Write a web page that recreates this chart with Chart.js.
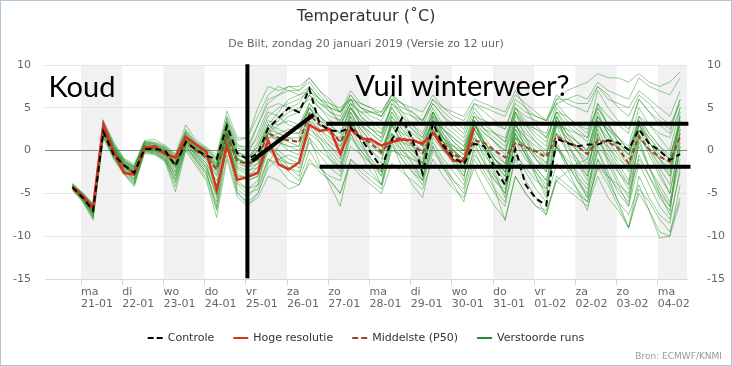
<!DOCTYPE html>
<html>
<head>
<meta charset="utf-8">
<title>Temperatuur De Bilt</title>
<script src="https://cdn.jsdelivr.net/npm/chart.js@4.4.1/dist/chart.umd.min.js"></script>
<style>
  html, body { margin: 0; padding: 0; background: #fff; }
  #plume-chart { display: block; }
</style>
</head>
<body>
<canvas id="plume-chart" width="732" height="366"></canvas>
<script>
// time axis: hours since 20-01 00:00 (local time), one point every 6 hours
const stepHours = [19,25,31,37,43,49,55,61,67,73,79,85,91,97,103,109,115,121,127,133,
  139,145,151,157,163,169,175,181,187,193,199,205,211,217,223,229,235,241,247,253,
  259,265,271,277,283,289,295,301,307,313,319,325,331,337,343,349,355,361,367,373];

// day ticks (midnight) and their labels
const dayTickHours = [24,48,72,96,120,144,168,192,216,240,264,288,312,336,360];
const dayNames = ['ma','di','wo','do','vr','za','zo','ma','di','wo','do','vr','za','zo','ma'];
const dayDates = ['21-01','22-01','23-01','24-01','25-01','26-01','27-01','28-01','29-01','30-01',
  '31-01','01-02','02-02','03-02','04-02'];
const yTicks = [-15, -10, -5, 0, 5, 10];

// series
const controle = [-4.3,-5.5,-7.0,2.2,-0.5,-1.7,-2.6,0.2,0.2,0.0,
  -1.8,1.0,0.1,-0.6,-1.0,2.9,-0.3,-1.0,-0.3,2.6,
  3.8,5.0,4.5,7.2,3.1,2.4,2.2,2.7,1.4,-0.3,
  -2.0,1.2,3.8,1.4,-2.7,3.2,0.6,-0.8,-1.6,0.8,
  0.5,-2.0,-4.0,0.2,-4.0,-5.6,-6.4,1.4,0.9,0.5,
  0.7,0.7,1.2,0.9,0.1,2.5,0.8,0.0,-1.1,-0.4];

const hogeResolutie = [-4.2,-5.3,-6.6,3.1,-0.2,-2.6,-2.8,0.3,0.5,-0.4,
  -0.8,1.6,0.7,-0.1,-4.6,0.5,-3.4,-3.1,-2.6,1.2,
  -1.6,-2.2,-1.4,3.0,2.3,2.5,-0.4,2.5,1.4,1.3,
  0.6,1.0,1.3,1.2,0.8,2.1,0.4,-1.2,-1.2,2.7];

const middelste = [-4.2,-5.4,-7.0,2.5,0.0,-1.8,-2.6,0.4,0.2,-0.3,
  -1.6,1.2,0.0,-0.8,-2.2,1.8,-1.2,-1.6,-1.0,2.0,
  1.5,1.2,1.0,4.2,3.0,2.4,1.0,3.0,1.6,0.8,
  -0.2,1.2,1.5,0.8,-0.3,2.2,0.8,-0.4,-1.0,1.2,
  0.9,0.0,-0.8,0.9,0.4,-0.1,-0.8,1.7,1.0,0.5,
  -0.4,1.2,1.0,0.3,-1.5,1.7,0.1,-0.7,-1.3,1.7];

const verstoordeRuns = [
  [-4.0,-5.2,-6.6,3.0,0.3,-1.5,-2.2,0.8,0.5,0.0,-1.2,1.8,0.4,-0.4,-1.5,2.5,-0.5,-1.0,0.5,3.5,3.0,4.0,4.5,6.5,5.0,4.0,3.5,5.5,3.0,2.0,1.0,4.0,2.5,1.5,0.5,3.5,1.5,0.0,-1.0,2.5,1.0,-0.5,-1.5,3.0,1.0,-0.5,-2.0,3.5,2.0,1.0,0.0,4.0,2.5,1.0,-0.5,3.0,1.0,-0.5,-1.5,2.5],
  [-4.5,-5.8,-7.8,1.8,-0.8,-2.5,-3.8,0.0,-0.2,-1.0,-3.5,0.5,-1.0,-2.5,-6.5,1.0,-4.0,-5.0,-4.5,-1.0,-2.0,-3.5,-4.0,-1.0,-2.5,-3.5,-5.0,-1.5,-3.0,-4.0,-5.0,-1.5,-2.5,-3.5,-4.5,-1.0,-3.0,-4.5,-5.5,-2.0,-4.5,-6.5,-8.0,-3.0,-5.0,-6.5,-7.0,-3.5,-4.5,-5.5,-6.5,-3.0,-5.5,-7.0,-9.0,-5.0,-7.0,-9.5,-10.0,-6.0],
  [-3.9,-5.0,-6.3,3.3,0.6,-1.2,-2.0,1.0,0.8,0.2,-0.8,2.3,0.8,0.2,-1.0,3.5,0.5,0.5,3.0,6.0,6.5,7.0,7.0,8.5,7.0,5.5,4.5,6.5,5.0,4.0,3.5,6.0,5.0,4.5,3.5,6.0,4.5,3.5,2.5,5.5,4.5,3.5,2.5,6.0,5.0,4.0,3.5,6.0,7.0,7.5,8.0,9.0,8.5,8.5,8.0,9.0,8.0,7.5,8.0,9.2],
  [-4.2,-5.5,-7.2,2.8,-0.2,-2.0,-3.0,0.5,0.0,-0.6,-2.5,1.6,-0.3,-1.5,-4.0,2.8,-2.0,-2.5,-1.5,2.5,1.0,0.0,-0.5,4.0,2.0,0.5,-1.0,4.5,2.0,0.0,-1.5,4.0,2.0,0.5,-1.5,4.5,1.5,-0.5,-2.0,3.5,1.0,-1.0,-2.5,4.5,1.5,-1.0,-2.5,4.0,1.0,-1.0,-3.0,3.5,0.5,-1.5,-3.5,3.0,0.5,-2.0,-4.0,4.5],
  [-4.4,-5.6,-7.4,2.2,-0.4,-2.2,-3.3,0.2,0.4,-0.2,-1.4,1.0,0.2,-0.5,-1.8,2.0,-0.8,-1.5,-0.5,2.0,4.0,5.0,5.5,7.5,6.0,5.0,4.5,6.0,4.0,3.0,2.0,5.0,3.5,2.5,1.5,4.5,2.5,1.0,0.0,3.0,1.0,-1.0,-2.5,2.0,-0.5,-2.5,-4.5,0.5,-1.5,-3.0,-4.5,0.5,-1.0,-2.5,-4.0,1.5,0.0,-1.5,-3.0,2.0],
  [-4.1,-5.3,-6.8,2.6,0.2,-1.6,-2.4,0.6,0.3,-0.4,-1.9,1.3,-0.2,-1.2,-3.0,1.5,-2.5,-3.5,-3.0,0.5,-1.0,-2.5,-3.5,0.0,-2.0,-3.5,-5.0,-1.0,-2.0,-3.0,-4.0,0.0,-0.5,-1.0,-1.5,2.0,1.0,0.5,0.0,3.5,2.5,2.0,1.5,5.0,3.5,2.5,1.5,4.5,3.0,2.0,1.0,5.0,3.0,1.5,0.0,4.0,2.0,0.5,-1.0,3.5],
  [-4.0,-5.1,-6.5,3.4,0.8,-1.0,-1.8,1.1,1.0,0.5,-0.5,2.5,1.0,0.3,-0.8,4.0,1.2,1.5,5.0,7.5,7.0,7.5,7.0,8.0,6.5,5.0,3.0,5.0,3.0,1.5,0.0,3.0,1.0,-0.5,-2.0,2.0,0.0,-1.5,-3.0,1.5,-0.5,-2.0,-3.5,2.5,0.5,-1.0,-2.0,3.0,2.5,2.0,1.5,5.5,4.0,3.0,2.0,6.0,4.5,3.5,2.5,6.0],
  [-4.3,-5.4,-6.9,2.0,-0.3,-1.9,-2.8,0.3,0.1,-0.5,-2.2,0.8,-0.5,-1.8,-4.5,1.2,-3.0,-3.0,-2.0,1.5,2.0,2.5,2.0,5.0,3.5,2.5,1.0,4.0,2.5,1.0,0.0,3.5,1.5,0.5,-0.5,3.0,1.0,0.0,-1.5,2.5,0.5,-1.5,-3.0,2.0,0.0,-2.0,-3.5,2.0,0.5,-1.0,-2.5,3.0,1.0,-0.5,-2.5,2.5,0.0,-2.5,-5.0,1.0],
  [-4.6,-5.9,-7.9,1.5,-1.0,-2.8,-4.2,-0.2,-0.4,-1.2,-4.2,0.2,-1.5,-3.2,-7.0,-0.5,-5.0,-6.0,-5.0,-2.0,-1.0,-0.5,-1.0,2.0,1.0,-0.5,-2.0,2.5,0.5,-1.0,-2.5,2.0,0.0,-1.5,-3.0,1.0,-1.0,-2.5,-4.0,0.0,-2.5,-4.5,-6.0,-1.0,-3.5,-5.5,-7.5,-3.0,-4.0,-5.0,-6.0,-2.0,-4.0,-6.5,-9.0,-4.5,-6.0,-8.0,-9.5,-5.5],
  [-4.2,-5.3,-6.7,2.9,0.5,-1.3,-2.0,0.7,0.6,0.3,-0.9,1.9,0.6,-0.2,-1.2,3.0,0.0,-1.0,1.0,4.0,5.0,5.5,6.0,7.0,5.5,4.5,4.0,6.5,5.0,4.5,4.0,6.0,5.5,5.0,4.5,6.5,5.0,4.0,3.5,5.5,5.0,4.5,4.0,6.5,5.5,4.5,3.5,5.5,6.0,5.5,5.5,7.5,6.5,5.0,4.0,6.5,5.5,4.0,3.0,5.5],
  [-4.4,-5.7,-7.5,2.4,-0.5,-2.3,-3.5,0.1,-0.1,-0.8,-3.0,1.1,-0.7,-2.0,-5.5,2.0,-3.5,-4.5,-3.5,0.0,-0.5,-2.0,-3.0,1.5,-1.5,-4.0,-6.5,-1.0,-2.5,-3.5,-4.5,0.5,-1.0,-2.5,-3.5,1.5,0.0,-1.0,-2.0,2.5,0.5,-1.5,-3.0,3.0,1.5,0.0,-1.5,3.5,1.5,0.0,-1.0,4.0,2.0,0.0,-1.5,3.0,1.0,-1.0,-2.5,3.5],
  [-4.0,-5.2,-6.6,3.1,0.4,-1.4,-2.1,0.9,0.7,0.1,-1.0,2.0,0.5,-0.3,-1.4,3.2,-0.3,-0.5,2.0,5.0,5.5,5.0,4.5,6.5,5.5,5.0,4.5,7.0,5.5,5.0,4.5,6.5,4.5,3.0,1.5,4.5,2.0,0.0,-2.0,2.0,-1.0,-4.5,-8.2,-3.0,-5.0,-6.5,-7.5,-3.5,-2.5,-1.5,-1.0,3.0,1.5,0.5,-0.5,3.5,1.5,0.0,-1.0,3.0],
  [-4.3,-5.5,-7.1,2.5,0.0,-1.8,-2.7,0.4,0.2,-0.3,-1.7,1.2,0.0,-0.9,-2.5,1.6,-1.5,-2.0,-1.5,1.0,-0.5,-1.5,-1.5,2.5,1.5,0.5,-0.5,2.5,1.5,1.0,0.5,2.0,1.0,0.5,0.0,2.0,0.5,-0.5,-1.5,1.5,0.0,-1.0,-2.0,1.5,0.5,-0.5,-1.5,2.0,1.0,0.0,-1.5,1.5,0.5,-1.0,-2.0,1.5,0.0,-1.0,-2.0,2.0],
  [-4.5,-5.7,-7.6,2.1,-0.6,-2.4,-3.6,0.0,-0.3,-1.0,-3.8,0.6,-1.2,-2.8,-6.0,1.8,-4.5,-5.5,-4.0,1.0,0.0,-1.0,-1.5,3.5,1.5,0.0,-1.5,4.0,1.0,-1.0,-3.0,3.0,0.5,-1.5,-3.5,4.0,1.0,-1.5,-3.5,3.5,0.0,-3.0,-5.0,3.5,0.0,-3.0,-5.5,3.0,0.0,-3.0,-5.5,2.0,-1.5,-4.0,-6.5,1.5,-2.0,-5.0,-7.5,2.5],
  [-4.1,-5.2,-6.7,2.7,0.1,-1.7,-2.5,0.5,0.4,-0.1,-1.5,1.5,0.2,-0.6,-2.0,2.2,-1.0,-1.5,0.0,3.0,2.5,2.0,2.0,5.5,4.0,3.0,2.0,5.0,3.5,2.5,1.5,5.5,4.0,3.0,2.0,5.0,3.0,2.0,1.0,4.0,3.5,3.0,2.5,5.5,4.5,4.0,3.5,6.5,5.5,5.0,4.5,7.5,6.0,5.5,5.0,7.0,6.0,5.0,4.0,7.0],
  [-4.4,-5.6,-7.3,2.3,-0.3,-2.1,-3.2,0.3,0.0,-0.7,-2.6,1.0,-0.6,-1.9,-5.0,1.4,-2.8,-3.5,-3.0,0.5,1.0,0.5,0.0,3.0,1.0,-1.0,-2.5,2.0,-0.5,-2.5,-4.0,1.0,-2.0,-4.0,-5.5,0.0,-2.0,-3.5,-4.5,0.5,-1.5,-3.0,-4.0,1.5,-0.5,-2.0,-3.5,1.0,-1.5,-3.5,-5.0,0.0,-3.0,-6.0,-9.0,-3.0,-5.5,-7.5,-8.5,-2.0],
  [-4.2,-5.4,-7.0,2.6,0.1,-1.7,-2.5,0.5,0.3,-0.2,-1.4,1.4,0.1,-0.7,-2.1,1.9,-1.1,-1.5,-1.0,2.5,3.5,4.5,5.0,6.0,5.0,3.5,3.0,5.5,4.5,3.5,2.5,5.0,3.0,1.5,0.5,3.5,2.5,1.5,0.5,4.0,2.5,1.0,-0.5,4.0,3.0,2.0,1.0,4.5,4.0,3.0,2.5,5.0,3.0,1.0,-0.5,3.0,1.5,0.0,-1.0,4.0],
  [-4.3,-5.6,-7.2,2.4,-0.2,-2.0,-2.9,0.2,0.0,-0.5,-2.0,0.9,-0.4,-1.5,-3.5,1.0,-2.2,-2.8,-2.5,0.0,-1.0,-1.5,-2.0,1.5,0.0,-1.0,-2.0,2.0,0.0,-1.5,-3.0,1.0,-1.0,-2.5,-4.0,0.5,-2.0,-4.0,-6.0,-1.0,-3.0,-5.0,-6.5,-0.5,-2.0,-3.5,-4.5,0.5,-1.5,-3.5,-5.5,-1.0,-3.5,-6.0,-7.5,-4.0,-7.0,-10.2,-10.0,-4.0],
  [-4.0,-5.1,-6.4,3.2,0.7,-1.1,-1.9,1.0,0.9,0.4,-0.6,2.2,0.9,0.1,-0.9,3.8,0.8,0.0,1.5,4.5,4.0,3.0,2.5,5.0,4.0,3.0,2.0,5.0,3.5,2.5,2.0,5.5,4.5,4.0,3.5,6.0,5.0,4.5,4.0,6.0,5.5,5.0,4.5,7.0,5.0,3.0,1.5,4.5,2.5,1.0,0.0,4.0,2.0,0.5,-1.0,4.0,3.0,2.0,1.5,5.0],
  [-4.5,-5.8,-7.7,1.9,-0.7,-2.6,-3.9,-0.1,-0.3,-1.1,-3.3,0.4,-1.1,-2.6,-6.8,0.6,-4.8,-6.3,-5.5,-3.0,-3.5,-4.5,-4.0,-1.5,-2.0,-3.0,-3.5,0.5,-0.5,-1.5,-2.5,1.5,0.0,-1.0,-2.0,2.5,1.0,0.0,-1.0,3.0,1.5,0.0,-1.5,2.5,0.5,-1.0,-2.5,2.0,0.0,-1.5,-3.0,1.0,-0.5,-2.5,-4.5,0.5,-2.0,-4.0,-6.0,0.0],
  [-4.1,-5.3,-6.9,2.8,0.3,-1.5,-2.3,0.6,0.5,0.0,-1.1,1.7,0.3,-0.5,-1.7,2.6,-0.6,-1.0,0.5,3.0,4.5,6.0,6.5,7.0,6.0,5.5,5.0,6.0,5.5,5.0,4.0,6.0,4.0,2.5,1.0,3.5,1.0,-1.0,-3.0,1.0,-1.5,-3.5,-5.0,0.0,-2.5,-4.5,-6.0,-1.5,-3.0,-4.5,-6.0,-2.0,-3.0,-4.0,-5.0,-1.0,-3.0,-5.0,-6.5,-1.0],
  [-4.2,-5.5,-7.1,2.5,0.0,-1.9,-2.7,0.3,0.2,-0.4,-1.8,1.1,-0.1,-1.0,-2.8,1.7,-1.8,-2.3,-2.0,1.5,1.5,1.0,0.5,3.5,2.5,1.5,0.5,3.0,1.5,0.5,-0.5,3.0,2.0,1.5,0.5,3.5,2.5,1.5,0.5,3.0,2.0,1.0,0.0,3.0,1.5,0.5,-0.5,3.0,1.5,0.5,-0.5,3.5,2.5,1.5,0.0,3.5,2.0,0.5,-0.5,3.0],
  [-4.6,-6.0,-8.1,1.6,-0.9,-2.7,-4.0,-0.3,-0.5,-1.3,-4.8,0.0,-1.8,-3.5,-7.8,-1.0,-5.4,-6.5,-5.0,-1.5,0.5,2.0,3.0,5.5,4.0,2.5,1.0,4.5,2.5,1.0,-0.5,3.5,1.5,0.0,-1.5,3.0,1.5,0.5,-0.5,3.0,1.0,-1.0,-2.5,2.0,-0.5,-3.0,-5.0,0.5,-2.0,-4.5,-7.0,-1.0,-3.0,-4.5,-6.0,-0.5,-3.0,-5.5,-7.0,0.5],
  [-3.8,-4.9,-6.2,3.5,1.0,-0.9,-1.6,1.2,1.3,0.6,-0.4,3.0,1.2,0.4,-0.5,4.6,1.5,1.5,4.0,6.5,7.5,7.0,6.5,7.5,6.0,4.5,3.5,6.0,5.0,4.5,4.5,6.5,5.5,4.0,3.0,5.5,4.0,2.5,1.5,4.5,3.0,2.0,1.0,5.0,4.0,3.5,3.0,6.0,6.0,6.5,6.0,8.0,7.0,6.5,6.0,8.5,7.5,7.0,6.5,8.5],
  [-4.3,-5.5,-7.0,2.3,-0.1,-1.8,-2.6,0.4,0.3,-0.3,-1.6,1.3,0.0,-0.8,-2.3,2.3,-1.3,-2.0,-1.0,2.0,1.0,0.5,0.5,4.5,2.5,1.0,0.0,3.5,1.0,-1.5,-4.0,2.0,0.5,-0.5,-1.5,3.5,1.5,0.0,-1.0,3.5,0.5,-2.5,-5.5,1.5,0.5,0.0,-0.5,4.0,2.0,1.0,0.0,4.5,2.0,0.0,-2.0,3.5,1.0,-1.0,-3.0,4.0],
  [-4.1,-5.2,-6.7,2.9,0.4,-1.4,-2.2,0.8,0.6,0.1,-1.0,1.8,0.5,-0.4,-1.6,2.8,-0.4,-0.8,0.0,2.5,2.0,1.5,1.0,4.5,3.5,3.0,3.0,5.5,4.5,4.5,4.0,6.5,5.5,4.5,3.5,5.5,4.0,3.0,2.0,5.0,3.5,2.0,1.0,4.5,2.5,1.0,0.0,4.0,2.0,0.0,-2.0,2.5,0.0,-2.0,-4.0,2.0,-0.5,-3.0,-5.0,1.5],
  [-4.4,-5.7,-7.4,2.0,-0.5,-2.3,-3.4,0.1,-0.1,-0.9,-2.9,0.7,-0.9,-2.2,-5.2,0.8,-3.8,-4.5,-4.0,-1.0,-1.5,-2.0,-2.5,1.0,-0.5,-2.0,-3.0,1.5,0.0,-1.5,-2.5,1.5,-0.5,-2.0,-3.5,0.5,-1.5,-3.5,-5.0,-0.5,-2.0,-3.5,-4.5,1.0,-1.0,-2.5,-4.0,0.5,-1.0,-2.5,-4.0,0.0,-2.5,-5.0,-6.5,-1.5,-4.0,-6.5,-8.0,-2.5],
  [-4.0,-5.0,-6.4,3.0,0.6,-1.2,-1.9,0.9,0.8,0.3,-0.7,2.1,0.7,0.0,-1.1,3.4,0.3,0.0,3.0,5.5,6.5,7.5,7.5,8.5,7.0,6.0,4.5,6.0,4.0,2.5,1.5,4.5,2.5,1.0,0.0,4.0,2.0,0.5,-0.5,3.5,2.0,1.0,0.0,4.5,3.0,2.5,2.0,5.5,4.0,3.0,2.0,7.0,5.0,3.5,2.5,6.0,4.5,3.0,2.0,6.0],
  [-4.2,-5.4,-7.0,2.7,0.2,-1.6,-2.4,0.6,0.4,-0.1,-1.3,1.5,0.3,-0.5,-1.9,2.1,-0.9,-1.8,-1.0,2.0,3.0,3.5,3.0,5.0,3.5,2.0,0.5,3.5,1.5,0.0,-1.0,3.0,1.0,0.0,-1.0,2.5,0.5,-1.0,-2.5,2.5,0.5,-1.0,-2.0,3.5,2.0,1.0,-0.5,3.5,1.0,-1.5,-3.5,2.0,-1.0,-3.5,-5.5,1.0,-2.0,-4.5,-6.5,0.5],
  [-4.3,-5.4,-6.9,2.6,0.0,-1.8,-2.6,0.5,0.2,-0.3,-1.5,1.3,0.1,-0.7,-2.0,2.0,-1.0,-1.5,-0.5,3.0,2.0,1.5,1.5,5.0,3.0,2.0,1.5,5.0,3.0,2.0,1.0,4.5,3.0,2.0,1.0,4.5,2.5,1.0,0.0,4.0,2.5,1.5,0.5,5.0,3.0,1.5,0.5,5.0,3.5,2.5,1.5,5.5,3.0,1.5,0.5,5.0,3.0,1.5,0.0,5.0]
];

// hand-drawn notes on top of the chart, in axis units (hours, degrees)
const noteLines = [
  [120.9, 10.1, 120.9, -14.9],
  [123.6, -1.2, 159.5, 4.2],
  [166.9, 3.15, 377.8, 3.15],
  [163.0, -1.9, 379.0, -1.9]
];
const noteTexts = [
  ['Koud', 5.0, 6.3],
  ['Vuil winterweer?', 183.8, 6.4]
];

const FONT = '"DejaVu Sans", "Noto Sans", sans-serif';
Chart.defaults.font.family = FONT;

const colors = {
  controle: '#000000',
  hoge: '#d9321f',
  middelste: '#a4432b',
  runs: 'rgba(38, 146, 38, 0.48)',
  runsLegend: '#2b8a2b'
};

function toPoints(values) {
  return values.map((v, i) => ({ x: stepHours[i], y: v }));
}

const datasets = [
  { label: 'Controle', data: toPoints(controle), borderColor: colors.controle, borderWidth: 2, borderDash: [6, 4], order: 0 },
  { label: 'Hoge resolutie', data: toPoints(hogeResolutie), borderColor: colors.hoge, borderWidth: 2.5, order: 1 },
  { label: 'Middelste (P50)', data: toPoints(middelste), borderColor: colors.middelste, borderWidth: 2, borderDash: [5, 3], order: 2 }
];
verstoordeRuns.forEach((run, k) => {
  datasets.push({ label: 'Verstoorde runs', data: toPoints(run), borderColor: colors.runs, borderWidth: 1, order: 3 + k });
});

const legendItems = [
  { text: 'Controle', color: colors.controle, dash: [6, 3] },
  { text: 'Hoge resolutie', color: colors.hoge, dash: [] },
  { text: 'Middelste (P50)', color: colors.middelste, dash: [6, 3] },
  { text: 'Verstoorde runs', color: colors.runsLegend, dash: [] }
];

// alternating grey day bands, drawn under the grid
const dayBands = {
  id: 'dayBands',
  beforeDraw(chart) {
    const { ctx, chartArea: a, scales: { x } } = chart;
    ctx.save();
    ctx.fillStyle = '#f1f1f1';
    dayTickHours.forEach((h, k) => {
      if (k % 2) return;
      const x0 = Math.max(x.getPixelForValue(h), a.left);
      const x1 = Math.min(x.getPixelForValue(h + 24), a.right);
      if (x1 > x0) ctx.fillRect(x0, a.top, x1 - x0, a.bottom - a.top);
    });
    ctx.restore();
  }
};

// legend, credits, frame and the drawn-on notes
const extras = {
  id: 'extras',
  afterDraw(chart) {
    const { ctx, scales: { x, y } } = chart;
    ctx.save();

    // notes
    ctx.strokeStyle = '#000';
    ctx.lineWidth = 4;
    noteLines.forEach(([h0, v0, h1, v1]) => {
      ctx.beginPath();
      ctx.moveTo(x.getPixelForValue(h0), y.getPixelForValue(v0));
      ctx.lineTo(x.getPixelForValue(h1), y.getPixelForValue(v1));
      ctx.stroke();
    });
    ctx.fillStyle = '#000';
    ctx.font = '29px Lato, "Open Sans", sans-serif';
    ctx.textBaseline = 'alphabetic';
    ctx.textAlign = 'left';
    noteTexts.forEach(([text, h, v]) => {
      ctx.fillText(text, x.getPixelForValue(h), y.getPixelForValue(v));
    });

    // legend
    ctx.font = '11px ' + FONT;
    ctx.textBaseline = 'middle';
    const sym = 15, gap = 5, spacing = 19, ly = 338;
    const widths = legendItems.map(it => sym + gap + ctx.measureText(it.text).width);
    const total = widths.reduce((s, w) => s + w, 0) + spacing * (widths.length - 1);
    let lx = chart.width / 2 - total / 2;
    legendItems.forEach((it, k) => {
      ctx.strokeStyle = it.color;
      ctx.lineWidth = 2;
      ctx.setLineDash(it.dash);
      ctx.beginPath();
      ctx.moveTo(lx, ly);
      ctx.lineTo(lx + sym, ly);
      ctx.stroke();
      ctx.setLineDash([]);
      ctx.fillStyle = '#333';
      ctx.fillText(it.text, lx + sym + gap, ly);
      lx += widths[k] + spacing;
    });

    // credits
    ctx.font = '9px ' + FONT;
    ctx.fillStyle = '#999';
    ctx.textAlign = 'right';
    ctx.fillText('Bron: ECMWF/KNMI', 722, 357);

    // outer frame
    ctx.strokeStyle = '#b3c6d8';
    ctx.lineWidth = 1;
    ctx.strokeRect(0.5, 0.5, chart.width - 1, chart.height - 1);
    ctx.restore();
  }
};

const ctx = document.getElementById('plume-chart').getContext('2d');
new Chart(ctx, {
  type: 'line',
  data: { datasets },
  options: {
    responsive: false,
    animation: false,
    devicePixelRatio: 1,
    layout: { padding: 0 },
    elements: {
      point: { radius: 0 },
      line: { tension: 0, fill: false }
    },
    plugins: {
      legend: { display: false },
      tooltip: { enabled: false },
      title: {
        display: true,
        text: 'Temperatuur (˚C)',
        color: '#333',
        font: { size: 16, weight: 'normal' },
        padding: { top: 7, bottom: 7 }
      },
      subtitle: {
        display: true,
        text: 'De Bilt, zondag 20 januari 2019 (Versie zo 12 uur)',
        color: '#666',
        font: { size: 11 },
        padding: { top: 4, bottom: 14.6 }
      }
    },
    scales: {
      x: {
        type: 'linear',
        min: 3,
        max: 377,
        afterBuildTicks: (scale) => {
          scale.ticks = dayTickHours.map(h => ({ value: h }));
        },
        afterFit: (scale) => { scale.height = 87; },
        ticks: {
          autoSkip: false,
          maxRotation: 0,
          minRotation: 0,
          align: 'start',
          padding: 1,
          color: '#666',
          font: { size: 11, lineHeight: 1.1 },
          callback: (value, index) => [dayNames[index], dayDates[index]]
        },
        grid: { drawOnChartArea: false, tickLength: 6, color: '#ccd6eb' },
        border: { color: '#d8d8d8' }
      },
      y: {
        position: 'left',
        min: -15,
        max: 10,
        afterBuildTicks: (scale) => {
          scale.ticks = yTicks.map(v => ({ value: v }));
        },
        afterFit: (scale) => { scale.width = 45; },
        ticks: { padding: 14, color: '#666', font: { size: 11 } },
        grid: {
          drawTicks: false,
          color: (c) => (c.tick && c.tick.value === 0 ? '#8a8a8a' : '#e3e3e3')
        },
        border: { display: false }
      },
      y2: {
        position: 'right',
        min: -15,
        max: 10,
        afterBuildTicks: (scale) => {
          scale.ticks = yTicks.map(v => ({ value: v }));
        },
        afterFit: (scale) => { scale.width = 45; },
        ticks: { padding: 12, color: '#666', font: { size: 11 } },
        grid: { display: false },
        border: { display: false }
      }
    }
  },
  plugins: [dayBands, extras]
});
</script>
</body>
</html>
